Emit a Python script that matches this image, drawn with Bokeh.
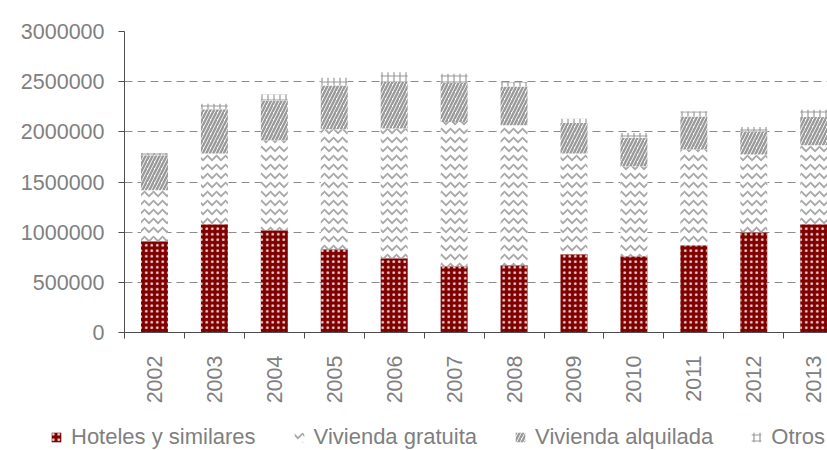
from bokeh.plotting import figure
from bokeh.models import (ColumnDataSource, FixedTicker, NumeralTickFormatter,
                          Legend, LegendItem, Range1d)
from bokeh.embed import file_html
from bokeh.resources import INLINE
import math

years = ["2002", "2003", "2004", "2005", "2006", "2007",
         "2008", "2009", "2010", "2011", "2012", "2013"]
hoteles = [910000, 1080000, 1020000, 830000, 740000, 660000,
           670000, 780000, 760000, 870000, 1000000, 1080000]
gratuita = [508000, 703000, 895000, 1195000, 1292000, 1438000,
            1395000, 1003000, 897000, 953000, 773000, 786000]
alquilada = [348000, 441000, 398000, 438000, 464000, 388000,
             388000, 305000, 285000, 331000, 232000, 281000]
otros = [23000, 56000, 60000, 76000, 99000, 93000,
         43000, 43000, 46000, 50000, 43000, 74000]
series_names = ["Hoteles y similares", "Vivienda gratuita",
                "Vivienda alquilada", "Otros"]
y_ticks = [0, 500000, 1000000, 1500000, 2000000, 2500000, 3000000]

xs = list(range(len(years)))
src = ColumnDataSource(dict(x=xs, hoteles=hoteles, gratuita=gratuita,
                            alquilada=alquilada, otros=otros))

stack_style = dict(
    fill_color=["#800000", "white", "white", "white"],
    line_color=None,
    hatch_pattern=["dot", "horizontal_wave", "right_diagonal_line", "cross"],
    hatch_color=["#ead6d6", "#a8a8a8", "#9a9a9a", "#999999"],
    hatch_scale=[5.5, 9, 7, 6],
    hatch_weight=[1.2, 1.8, 2.4, 1.2],
)
stackers = ["hoteles", "gratuita", "alquilada", "otros"]

p = figure(width=827, height=412, output_backend="svg", toolbar_location=None,
           x_range=Range1d(-0.5, 11.23), y_range=Range1d(0, 3000000),
           min_border_left=124, min_border_right=0, min_border_top=31,
           min_border_bottom=80)
p.outline_line_color = None
p.background_fill_color = "white"
p.border_fill_color = "white"

p.xgrid.visible = False
p.ygrid.grid_line_color = "#8c8c8c"
p.ygrid.grid_line_dash = "8 5"
p.ygrid.grid_line_width = 1

p.vbar_stack(stackers, x="x", width=0.45, source=src, **stack_style)

# axes
xa = p.xaxis[0]
xa.ticker = FixedTicker(ticks=xs, minor_ticks=[i - 0.5 for i in range(len(years) + 1)])
xa.major_label_overrides = {i: y for i, y in enumerate(years)}
xa.major_label_orientation = math.pi / 2
xa.major_tick_out = 0
xa.major_tick_in = 0
xa.minor_tick_out = 6
xa.minor_tick_in = 0
xa.major_label_standoff = 17

ya = p.yaxis[0]
ya.ticker = FixedTicker(ticks=y_ticks)
ya.formatter = NumeralTickFormatter(format="0")
ya.major_tick_out = 6
ya.major_tick_in = 0
ya.minor_tick_out = 0
ya.minor_tick_in = 0
ya.major_label_standoff = 14

for ax in (xa, ya):
    ax.axis_line_color = "#4d4d4d"
    ax.major_tick_line_color = "#4d4d4d"
    ax.minor_tick_line_color = "#4d4d4d"
    ax.major_label_text_font = "Liberation Sans"
    ax.major_label_text_font_size = "21.5px"
    ax.major_label_text_color = "#808080"

# legend strip: a second figure sharing the same data, with its bars out of view
lg = figure(width=827, height=38, output_backend="svg", toolbar_location=None,
            x_range=Range1d(-1001, -1000), y_range=Range1d(0, 1),
            x_axis_type=None, y_axis_type=None,
            min_border_left=0, min_border_right=0, min_border_top=0,
            min_border_bottom=0)
lg.outline_line_color = None
lg.xgrid.visible = False
lg.ygrid.visible = False
lrs = lg.vbar_stack(stackers, x="x", width=0.45, source=src, **stack_style)

legend = Legend(
    items=[LegendItem(label=n, renderers=[r]) for n, r in zip(series_names, lrs)],
    orientation="horizontal", location=(50, 0),
    label_text_font="Liberation Sans", label_text_font_size="22px",
    label_text_color="#7f7f7f", border_line_color=None,
    background_fill_alpha=0, padding=0, margin=0, spacing=37,
    glyph_width=12, glyph_height=12, label_standoff=9,
)
lg.add_layout(legend)

open("out.html", "w").write(file_html([p, lg], INLINE))
